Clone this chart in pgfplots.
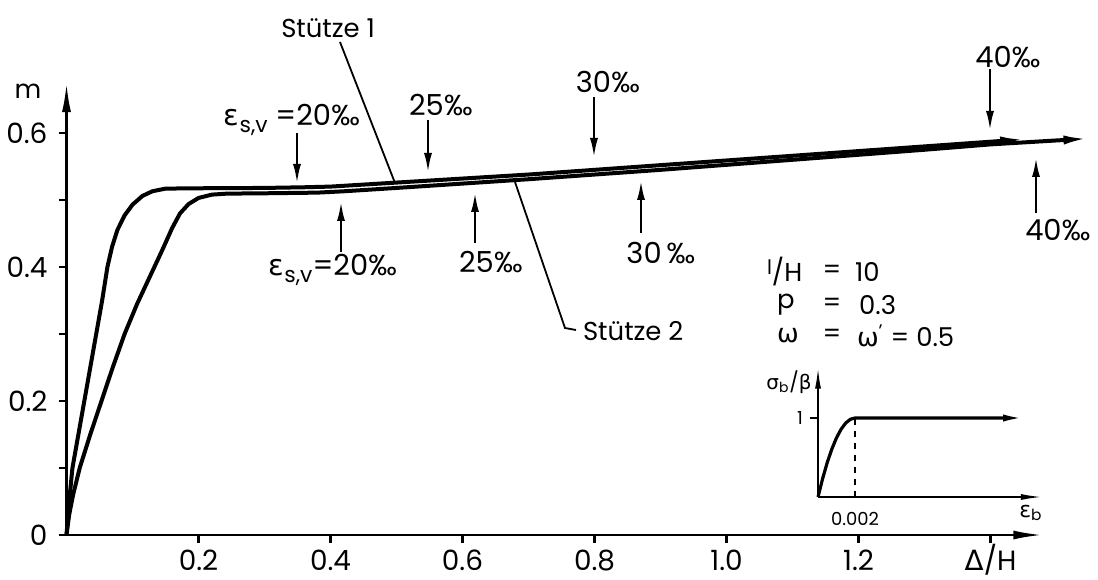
\documentclass[border=0pt]{standalone}
\usepackage{fontspec}
\setmainfont{Poppins}
\newfontfamily\gr{DejaVu Sans}
\usepackage{pgfplots}
\pgfplotsset{compat=1.18}
\usetikzlibrary{arrows.meta}

% Stuetze 1 (upper curve)
\pgfplotstableread{
x y
0 0
0.004 0.05
0.009 0.10
0.018 0.15
0.027 0.20
0.036 0.25
0.045 0.30
0.054 0.35
0.062 0.40
0.069 0.43
0.077 0.455
0.088 0.477
0.100 0.493
0.115 0.506
0.130 0.513
0.150 0.517
0.200 0.5175
0.300 0.518
0.360 0.519
0.400 0.520
0.500 0.526
0.700 0.538
0.900 0.552
1.100 0.566
1.300 0.580
1.457 0.591
}\stuetzeA
% Stuetze 2 (lower curve)
\pgfplotstableread{
x y
0 0
0.004 0.03
0.010 0.06
0.020 0.10
0.036 0.15
0.053 0.20
0.070 0.25
0.088 0.30
0.107 0.345
0.126 0.385
0.145 0.425
0.160 0.458
0.172 0.480
0.185 0.494
0.200 0.503
0.220 0.508
0.243 0.5095
0.300 0.510
0.380 0.511
0.420 0.513
0.500 0.518
0.700 0.531
0.900 0.545
1.100 0.560
1.300 0.575
1.400 0.583
1.553 0.592
}\stuetzeB
% concrete stress-strain (strain in permille)
\pgfplotstableread{
e s
0 0
0.25 0.234
0.50 0.4375
0.75 0.609
1.00 0.75
1.25 0.859
1.50 0.9375
1.75 0.984
2.00 1
11.3 1
}\beton

\newcommand{\esv}{{\gr ε}\raisebox{-0.45ex}{\fontsize{11}{11}\selectfont s,v}}
\begin{document}
\begin{tikzpicture}[x=0.5bp,y=-0.5bp,font=\fontsize{13}{15}\selectfont]
\useasboundingbox (0,0) rectangle (1098,580);
\begin{axis}[
  anchor=origin, at={(33.25bp,-267.5bp)},
  x=330bp, y=335bp,
  xmin=0, xmax=1.48, ymin=0, ymax=0.676,
  axis lines=left, clip=false,
  axis line style={line width=1.4bp, -{Latex[length=15bp,width=4.5bp]}},
  xtick={0.2,0.4,0.6,0.8,1.0,1.2,1.4},
  xticklabels={0.2,0.4,0.6,0.8,1.0,1.2,{{\gr Δ}/H}},
  ytick={0,0.2,0.4,0.6},
  yticklabels={0,0.2,0.4,0.6},
  minor ytick={0.1,0.3,0.5},
  tick align=outside,
  major tick length=4bp, minor tick length=4bp,
  tick style={line width=1.2bp, black},
  tick label style={font=\fontsize{14}{16}\selectfont},
  xticklabel style={anchor=base, yshift=-13.5bp},
  yticklabel style={xshift=-2bp},
]
\addplot[line width=2bp, -{Latex[length=14bp,width=4.5bp]}] table {\stuetzeA};
\addplot[line width=2bp, -{Latex[length=14bp,width=4.5bp]}] table {\stuetzeB};
\end{axis}

% inset
\begin{axis}[
  anchor=origin, at={(409bp,-248.5bp)},
  x=9.25bp, y=39.5bp,
  xmin=0, xmax=12.16, ymin=0, ymax=1.65,
  axis lines=left, clip=false,
  axis line style={line width=1bp, -{Latex[length=11bp,width=3bp]}},
  xtick={2}, xticklabels={0.002},
  ytick={1}, yticklabels={1},
  tick align=outside, major tick length=4bp,
  xtick style={draw=none}, ytick style={line width=1bp,black},
  tick label style={font=\fontsize{9}{10}\selectfont},
]
\addplot[line width=1.6bp, -{Latex[length=12bp,width=3.5bp]}] table {\beton};
\addplot[line width=0.8bp, dashed] coordinates {(2,0) (2,1)};
\end{axis}

\node at (28,91) {m};
% Stuetze labels
\node[anchor=east] at (382,28) {Stütze 1};
\draw[line width=0.9bp] (340,42) -- (395,183);
\node[anchor=west] at (576,331) {Stütze 2};
\draw[line width=0.9bp] (515,182) -- (565,328) -- (576,330);

% strain arrows, Stuetze 1
\tikzset{ann/.style={line width=1.3bp, -{Latex[length=10bp,width=4bp]}},
         pm/.style={font=\fontsize{14.5}{16}\selectfont}}
\draw[ann] (297,133) -- (297,184);
\node[pm] at (292,120) {\esv\ =20‰};
\draw[ann] (428,120) -- (428,173);
\node[pm] at (441,105) {25‰};
\draw[ann] (594,97) -- (594,158);
\node[pm] at (608,82) {30‰};
\draw[ann] (990,69) -- (990,131);
\node[pm] at (1008,57) {40‰};
% strain arrows, Stuetze 2
\draw[ann] (341,252) -- (341,201);
\node[pm] at (333,270) {\esv=20‰};
\draw[ann] (475,243) -- (475,192);
\node[pm] at (491,262) {25‰};
\draw[ann] (641,233) -- (641,180);
\node[pm] at (661,253) {30\,‰};
\draw[ann] (1036,213) -- (1036,157);
\node[pm] at (1058,230) {40‰};

% parameters
\node[anchor=west] at (760,272) {\raisebox{0.55ex}{\fontsize{10}{10}\selectfont l}/H};
\node[anchor=west] at (770,305) {p};
\node[anchor=west] at (770,336) {{\gr ω}};
\node at (832,272) {=};
\node at (832,305) {=};
\node at (832,336) {=};
\node[anchor=west] at (848,272) {10};
\node[anchor=west] at (852,305) {0.3};
\node[anchor=west] at (850,336) {{\gr ω}\textsuperscript{'} = 0.5};

% inset labels
\node at (789,382) {\fontsize{10}{10}\selectfont {\gr σ}\textsubscript{b}/{\gr β}};
\node at (1031,513) {\fontsize{11}{11}\selectfont {\gr ε}\textsubscript{b}};
\end{tikzpicture}
\end{document}
